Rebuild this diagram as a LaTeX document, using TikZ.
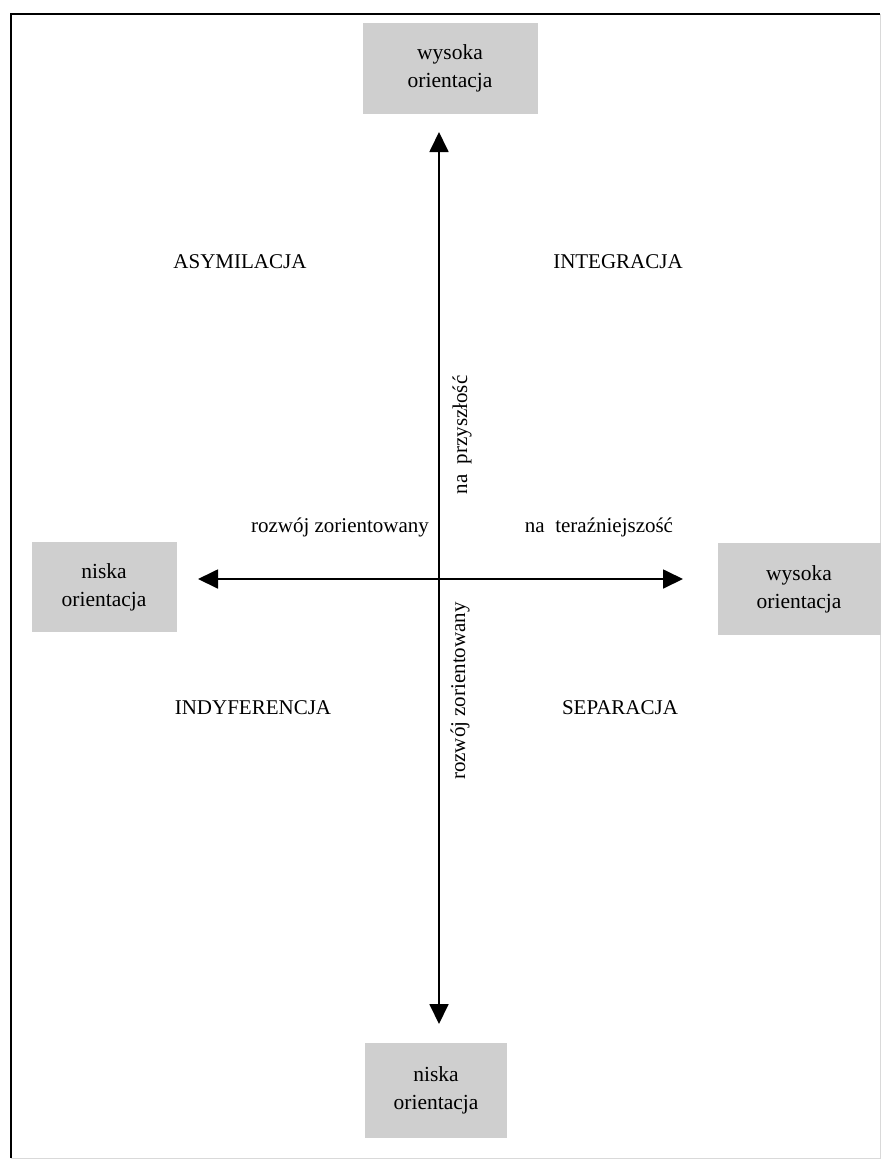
\documentclass[tikz,border=0pt]{standalone}
\usepackage{fontspec}
\setmainfont{Liberation Serif}
\usetikzlibrary{arrows.meta}
\begin{document}
\begin{tikzpicture}[x=1pt,y=-1pt,
  lbl/.style={font=\fontsize{21}{25}\selectfont, inner sep=0pt},
  boxnode/.style={fill=black!19, draw=none, align=center,
    font=\fontsize{21.5}{28}\selectfont, inner sep=0pt},
  axis/.style={line width=1.8pt, -{Triangle[length=20pt,width=19pt]}},
  frameline/.style={line width=2.6pt},
  faintline/.style={line width=0.8pt, black!15}]
\useasboundingbox (0,0) rectangle (883,1160);
% frame
\draw[frameline] (11,1158) -- (11,14) -- (880,14);
\draw[faintline] (880,14) -- (880,1158) -- (11,1158);
% boxes
\node[boxnode, minimum width=175pt, minimum height=91pt] (top) at (450,68) {wysoka\\orientacja};
\node[boxnode, minimum width=145pt, minimum height=90pt] (left) at (104,587) {niska\\orientacja};
\node[boxnode, minimum width=163pt, minimum height=92pt] (right) at (799,589) {wysoka\\orientacja};
\node[boxnode, minimum width=142pt, minimum height=95pt] (bottom) at (436,1090) {niska\\orientacja};
% axes
\coordinate (c) at (439,579);
\coordinate (ttip) at (439,132);
\coordinate (btip) at (439,1024);
\coordinate (ltip) at (198,579);
\coordinate (rtip) at (683,579);
\draw[axis] (c) -- (ttip);
\draw[axis] (c) -- (btip);
\draw[axis] (c) -- (ltip);
\draw[axis] (c) -- (rtip);
% quadrant labels
\node[lbl] (asym) at (240,262) {ASYMILACJA};
\node[lbl] (integ) at (618,262) {INTEGRACJA};
\node[lbl] (indyf) at (253,708) {INDYFERENCJA};
\node[lbl] (separ) at (620,708) {SEPARACJA};
% axis labels
\node[lbl] (rozh) at (340,527) {rozwój zorientowany};
\node[lbl] (teraz) at (599,527) {na\ \ teraźniejszość};
\node[lbl, rotate=90] (przysz) at (462,435) {na\ \ przyszłość};
\node[lbl, rotate=90] (rozv) at (460,691) {rozwój zorientowany};
\end{tikzpicture}
\end{document}
